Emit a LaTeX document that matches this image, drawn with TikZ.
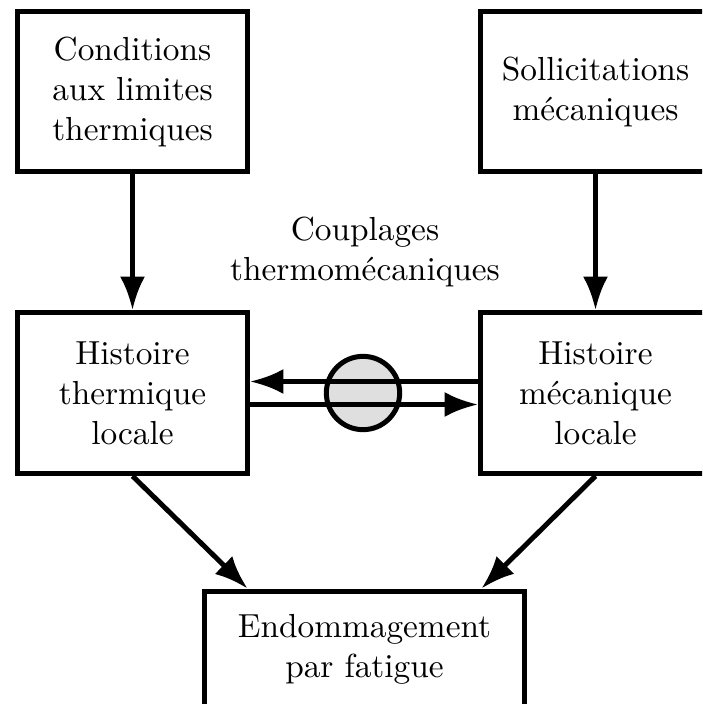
\documentclass[tikz,border=0pt]{standalone}
\usetikzlibrary{arrows.meta,calc}

\tikzset{
    boite/.style={draw, line width=1.5pt, align=center, inner sep=0pt},
    haute/.style={boite, minimum width=69pt, minimum height=48pt},
    milieu/.style={boite, minimum width=69pt, minimum height=48.3pt},
    fleche/.style={-{Latex[length=10pt,width=7.5pt]}, line width=1.5pt}
}

\begin{document}
\begin{tikzpicture}[x=0.3pt, y=-0.3pt]
    \clip (0, 0) rectangle (702, 704);
    \node[haute] (ctherm) at (132.5, 92) {Conditions\\aux limites\\thermiques};
    \node[haute] (smeca) at (595.5, 92) {Sollicitations\\mécaniques};
    \node[milieu] (htherm) at (132.5, 393) {Histoire\\thermique\\locale};
    \node[milieu] (hmeca) at (595.5, 393) {Histoire\\mécanique\\locale};
    \node[boite, minimum width=96pt, minimum height=34.8pt] (endo) at (364.5, 649)
    {Endommagement\\par fatigue};
    \node[align=center] (coupl) at (365, 252) {Couplages\\thermomécaniques};
    \node[circle, draw, line width=1.5pt, fill=gray!25, minimum size=22pt,
    inner sep=0pt] (rond) at (363, 393) {};
    \draw[fleche] (ctherm) -- (htherm);
    \draw[fleche] (smeca) -- (hmeca);
    \draw[fleche] ([yshift=3.45pt]hmeca.west) -- ([yshift=3.45pt]htherm.east);
    \draw[fleche] ([yshift=-3.45pt]htherm.east) -- ([yshift=-3.45pt]hmeca.west);
    \draw[fleche] (htherm.south) -- ($(endo.north west)!0.14!(endo.north east)$);
    \draw[fleche] (hmeca.south) -- ($(endo.north west)!0.86!(endo.north east)$);
  \end{tikzpicture}
\end{document}
